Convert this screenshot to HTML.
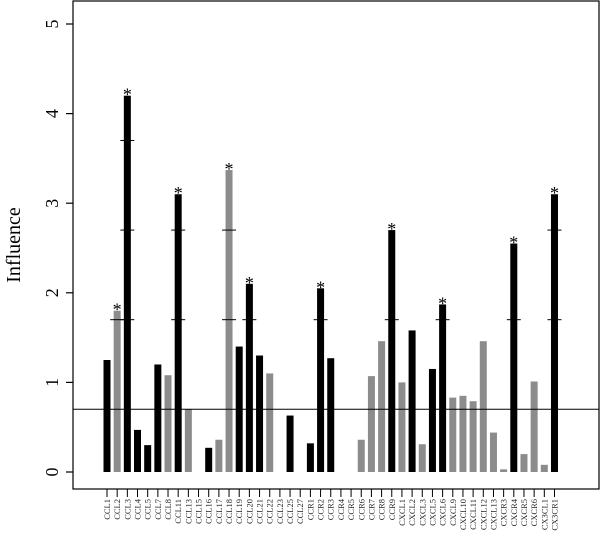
<!DOCTYPE html>
<html><head><meta charset="utf-8"><style>
html,body{margin:0;padding:0;background:#fff;}
svg{display:block;font-family:"Liberation Serif",serif;}
</style></head><body>
<svg id="chart" width="600" height="545" viewBox="0 0 600 545" xmlns="http://www.w3.org/2000/svg">
<rect x="73" y="1" width="526" height="488" fill="none" stroke="#000" stroke-width="1.2"/>
<text transform="translate(20,245) rotate(-90)" text-anchor="middle" font-size="20">Influence</text>
<g id="yaxis"></g>
<g id="bars"></g>
<g id="xaxis"></g>
</svg>
<script>
const categories=["CCL1","CCL2","CCL3","CCL4","CCL5","CCL7","CCL8","CCL11","CCL13","CCL15","CCL16","CCL17","CCL18","CCL19","CCL20","CCL21","CCL22","CCL23","CCL25","CCL27","CCR1","CCR2","CCR3","CCR4","CCR5","CCR6","CCR7","CCR8","CCR9","CXCL1","CXCL2","CXCL3","CXCL5","CXCL6","CXCL9","CXCL10","CXCL11","CXCL12","CXCL13","CXCR3","CXCR4","CXCR5","CXCR6","CX3CL1","CX3CR1"];
const values=[1.25,1.8,4.2,0.47,0.3,1.2,1.08,3.1,0.7,0,0.27,0.36,3.37,1.4,2.1,1.3,1.1,0,0.63,0,0.32,2.05,1.27,0,0,0.36,1.07,1.46,2.7,1.0,1.58,0.31,1.15,1.87,0.83,0.85,0.79,1.46,0.44,0.03,2.55,0.2,1.01,0.08,3.1];
const isBlack=[1,0,1,1,1,1,0,1,0,0,1,0,0,1,1,1,0,0,1,0,1,1,1,0,0,0,0,0,1,0,1,0,1,1,0,0,0,0,0,0,1,0,0,0,1];
const starred=[0,1,1,0,0,0,0,1,0,0,0,0,1,0,1,0,0,0,0,0,0,1,0,0,0,0,0,0,1,0,0,0,0,1,0,0,0,0,0,0,1,0,0,0,1];
const yTicks=[0,1,2,3,4,5];
const threshold=0.7;
const NS="http://www.w3.org/2000/svg";
const y0=472,ppu=89.6;
function yS(v){return y0-v*ppu;}
function xS(i){return 107+i*10.17;}
function mk(tag,attrs,parent){const e=document.createElementNS(NS,tag);for(const k in attrs)e.setAttribute(k,attrs[k]);parent.appendChild(e);return e;}
const ya=document.getElementById('yaxis'),bg=document.getElementById('bars'),xa=document.getElementById('xaxis');
yTicks.forEach(t=>{
  const l=mk('line',{x1:66,x2:73,y1:yS(t),y2:yS(t),stroke:'#000','stroke-width':1.2},ya);
  
  
  const tx=mk('text',{transform:`translate(58,${yS(t)}) rotate(-90)`,'text-anchor':'middle','font-size':18},ya);
  
  
  tx.textContent=t;
});
categories.forEach((c,i)=>{
  const v=values[i],x=xS(i);
  if(v>0){
    const r=mk('rect',{x:x-3.5,y:yS(v),width:7,height:v*ppu,fill:isBlack[i]?'#000':'#8c8c8c'},bg);
    
    
  }
  if(starred[i]){
    for(let k=threshold+1;k<v;k+=1){
      const s=mk('line',{x1:x-7,x2:x+7,y1:yS(k),y2:yS(k),stroke:'#000','stroke-width':1},bg);
      
      
    }
    const st=mk('text',{x:x,y:yS(v)-4,'text-anchor':'middle','font-size':18},bg);
    
    
    st.textContent='*';
    st.setAttribute('dy','9');
  }
  const tk=mk('line',{x1:x,x2:x,y1:489,y2:497,stroke:'#000','stroke-width':1},xa);
  
  
  const lb=mk('text',{transform:`translate(${x+3},499) rotate(-90)`,'text-anchor':'end','font-size':8.5,fill:'#222'},xa);
  
  
  lb.textContent=c;
});
const th=mk('line',{x1:73,x2:599,y1:yS(threshold),y2:yS(threshold),stroke:'#000','stroke-width':1},bg);


</script>
</body></html>
